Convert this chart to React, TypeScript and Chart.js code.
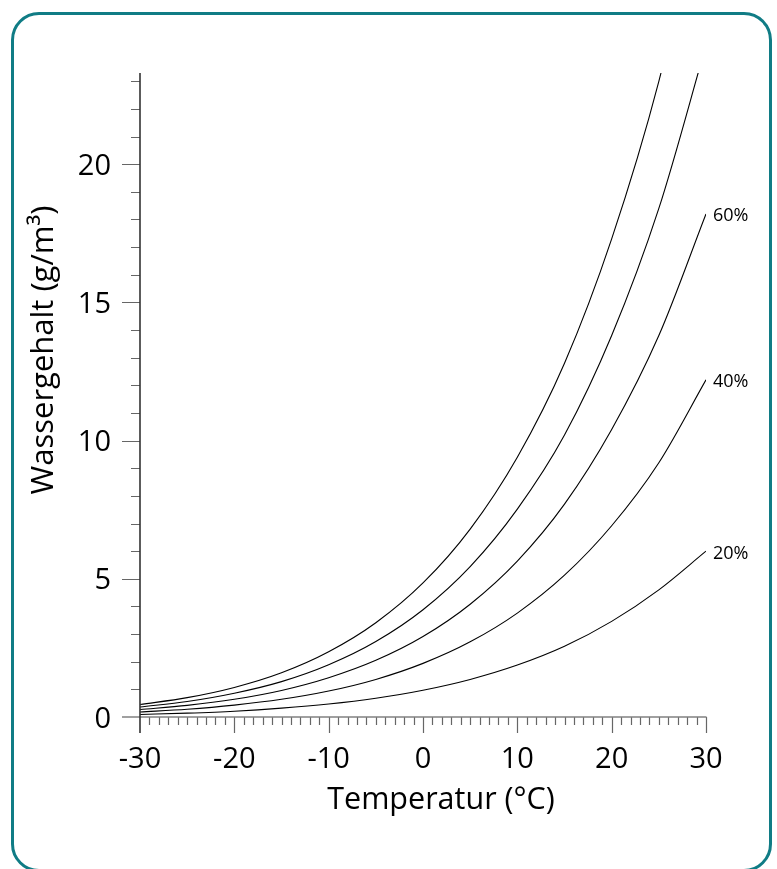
import { useEffect, useRef } from "react";
import { Chart, registerables } from "chart.js";

Chart.register(...registerables);

// Temperature (°C)
const temperatures = [-30, -25, -20, -15, -10, -5, 0, 5, 10, 15, 20, 25, 30];
// Water content (g/m³) at relative humidity
const rh100 = [0.45, 0.7, 1.07, 1.6, 2.36, 3.41, 4.85, 6.8, 9.4, 12.8, 17.3, 23.0, 30.4];
const rh80 = [0.36, 0.56, 0.86, 1.28, 1.89, 2.73, 3.88, 5.44, 7.52, 10.2, 13.8, 18.4, 24.3];
const rh60 = [0.27, 0.42, 0.64, 0.96, 1.42, 2.05, 2.91, 4.08, 5.64, 7.7, 10.4, 13.8, 18.2];
const rh40 = [0.18, 0.28, 0.43, 0.64, 0.94, 1.36, 1.94, 2.72, 3.76, 5.13, 6.92, 9.2, 12.2];
const rh20 = [0.09, 0.14, 0.21, 0.32, 0.47, 0.68, 0.97, 1.36, 1.88, 2.56, 3.46, 4.6, 6.0];

const seriesNames = ["100%", "80%", "60%", "40%", "20%"];
const labelledSeries = ["60%", "40%", "20%"];
const xTickLabels = [-30, -20, -10, 0, 10, 20, 30];
const yTickLabels = [0, 5, 10, 15, 20];
const xMin = -30;
const xMax = 30;
const yMin = 0;
const yMax = 23.3;
const xTitle = "Temperatur (°C)";
const yTitle = "Wassergehalt (g/m³)";

const FONT = "'Open Sans', 'Noto Sans', sans-serif";

const axesPlugin = {
  id: "customAxes",
  afterDraw(chart: any) {
    const ctx = chart.ctx as CanvasRenderingContext2D;
    const xs = chart.scales.x;
    const ys = chart.scales.y;
    const x0 = xs.getPixelForValue(xMin);
    const x1 = xs.getPixelForValue(xMax);
    const y0 = ys.getPixelForValue(yMin);
    const yTop = ys.getPixelForValue(yMax);
    ctx.save();

    // ticks
    ctx.lineWidth = 1.2;
    ctx.strokeStyle = "#666";
    ctx.beginPath();
    for (let v = 1; v <= Math.floor(yMax); v++) {
      const py = Math.round(ys.getPixelForValue(v)) + 0.5;
      const len = v % 5 === 0 ? 18 : 9;
      ctx.moveTo(x0 - len, py);
      ctx.lineTo(x0, py);
    }
    for (let t = xMin + 1; t <= xMax; t++) {
      const px = Math.round(xs.getPixelForValue(t)) + 0.5;
      const len = t % 10 === 0 ? 16 : 8;
      ctx.moveTo(px, y0);
      ctx.lineTo(px, y0 + len);
    }
    ctx.stroke();

    // x axis line
    ctx.strokeStyle = "#808080";
    ctx.lineWidth = 1.6;
    ctx.beginPath();
    ctx.moveTo(x0 - 18, y0);
    ctx.lineTo(x1 + 0.5, y0);
    ctx.stroke();

    // y axis line
    ctx.strokeStyle = "#333";
    ctx.lineWidth = 1.6;
    ctx.beginPath();
    ctx.moveTo(x0, yTop);
    ctx.lineTo(x0, y0 + 16);
    ctx.stroke();

    // tick labels
    ctx.fillStyle = "#000";
    ctx.font = `29px ${FONT}`;
    ctx.textBaseline = "alphabetic";
    ctx.textAlign = "right";
    yTickLabels.forEach((v) => {
      ctx.fillText(String(v), x0 - 29, ys.getPixelForValue(v) + 10.5);
    });
    ctx.textAlign = "center";
    xTickLabels.forEach((t) => {
      ctx.fillText(String(t), xs.getPixelForValue(t), 768);
    });

    // axis titles
    ctx.font = `30.5px ${FONT}`;
    ctx.textAlign = "center";
    ctx.fillText(xTitle, 441, 809);
    ctx.save();
    ctx.font = `31px ${FONT}`;
    ctx.translate(53, 350);
    ctx.rotate(-Math.PI / 2);
    ctx.fillText(yTitle, 0, 0);
    ctx.restore();

    // curve labels
    ctx.font = `18px ${FONT}`;
    ctx.textAlign = "left";
    chart.data.datasets.forEach((ds: any) => {
      if (!labelledSeries.includes(ds.label)) return;
      const last = ds.data[ds.data.length - 1];
      const px = xs.getPixelForValue(last.x);
      const py = ys.getPixelForValue(last.y);
      ctx.fillText(ds.label, px + 7, py + 7.5);
    });

    ctx.restore();
  },
};

export default function App() {
  const canvasRef = useRef<HTMLCanvasElement | null>(null);

  useEffect(() => {
    if (!canvasRef.current) return;
    const allSeries = [rh100, rh80, rh60, rh40, rh20];
    const chart = new Chart(canvasRef.current, {
      type: "line",
      data: {
        datasets: allSeries.map((vals, i) => ({
          label: seriesNames[i],
          data: temperatures.map((t, j) => ({ x: t, y: vals[j] })),
          borderColor: "#000",
          borderWidth: 1.1,
          pointRadius: 0,
          fill: false,
          cubicInterpolationMode: "monotone" as const,
        })),
      },
      options: {
        animation: false,
        responsive: false,
        maintainAspectRatio: false,
        layout: { padding: { left: 140, top: 73, right: 71, bottom: 152 } },
        plugins: {
          legend: { display: false },
          tooltip: { enabled: false },
        },
        scales: {
          x: { type: "linear", min: xMin, max: xMax, display: false },
          y: { type: "linear", min: yMin, max: yMax, display: false },
        },
      },
      plugins: [axesPlugin],
    });
    return () => chart.destroy();
  }, []);

  return (
    <div style={{ position: "absolute", left: 0, top: 0, width: 777, height: 869, overflow: "hidden", background: "#fff" }}>
      <div
        style={{
          position: "absolute",
          left: 11,
          top: 12,
          width: 761,
          height: 860,
          border: "3px solid #107c85",
          borderRadius: 28,
          boxSizing: "border-box",
        }}
      />
      <canvas
        ref={canvasRef}
        width={777}
        height={869}
        style={{ position: "absolute", left: 0, top: 0, width: 777, height: 869 }}
      />
    </div>
  );
}
